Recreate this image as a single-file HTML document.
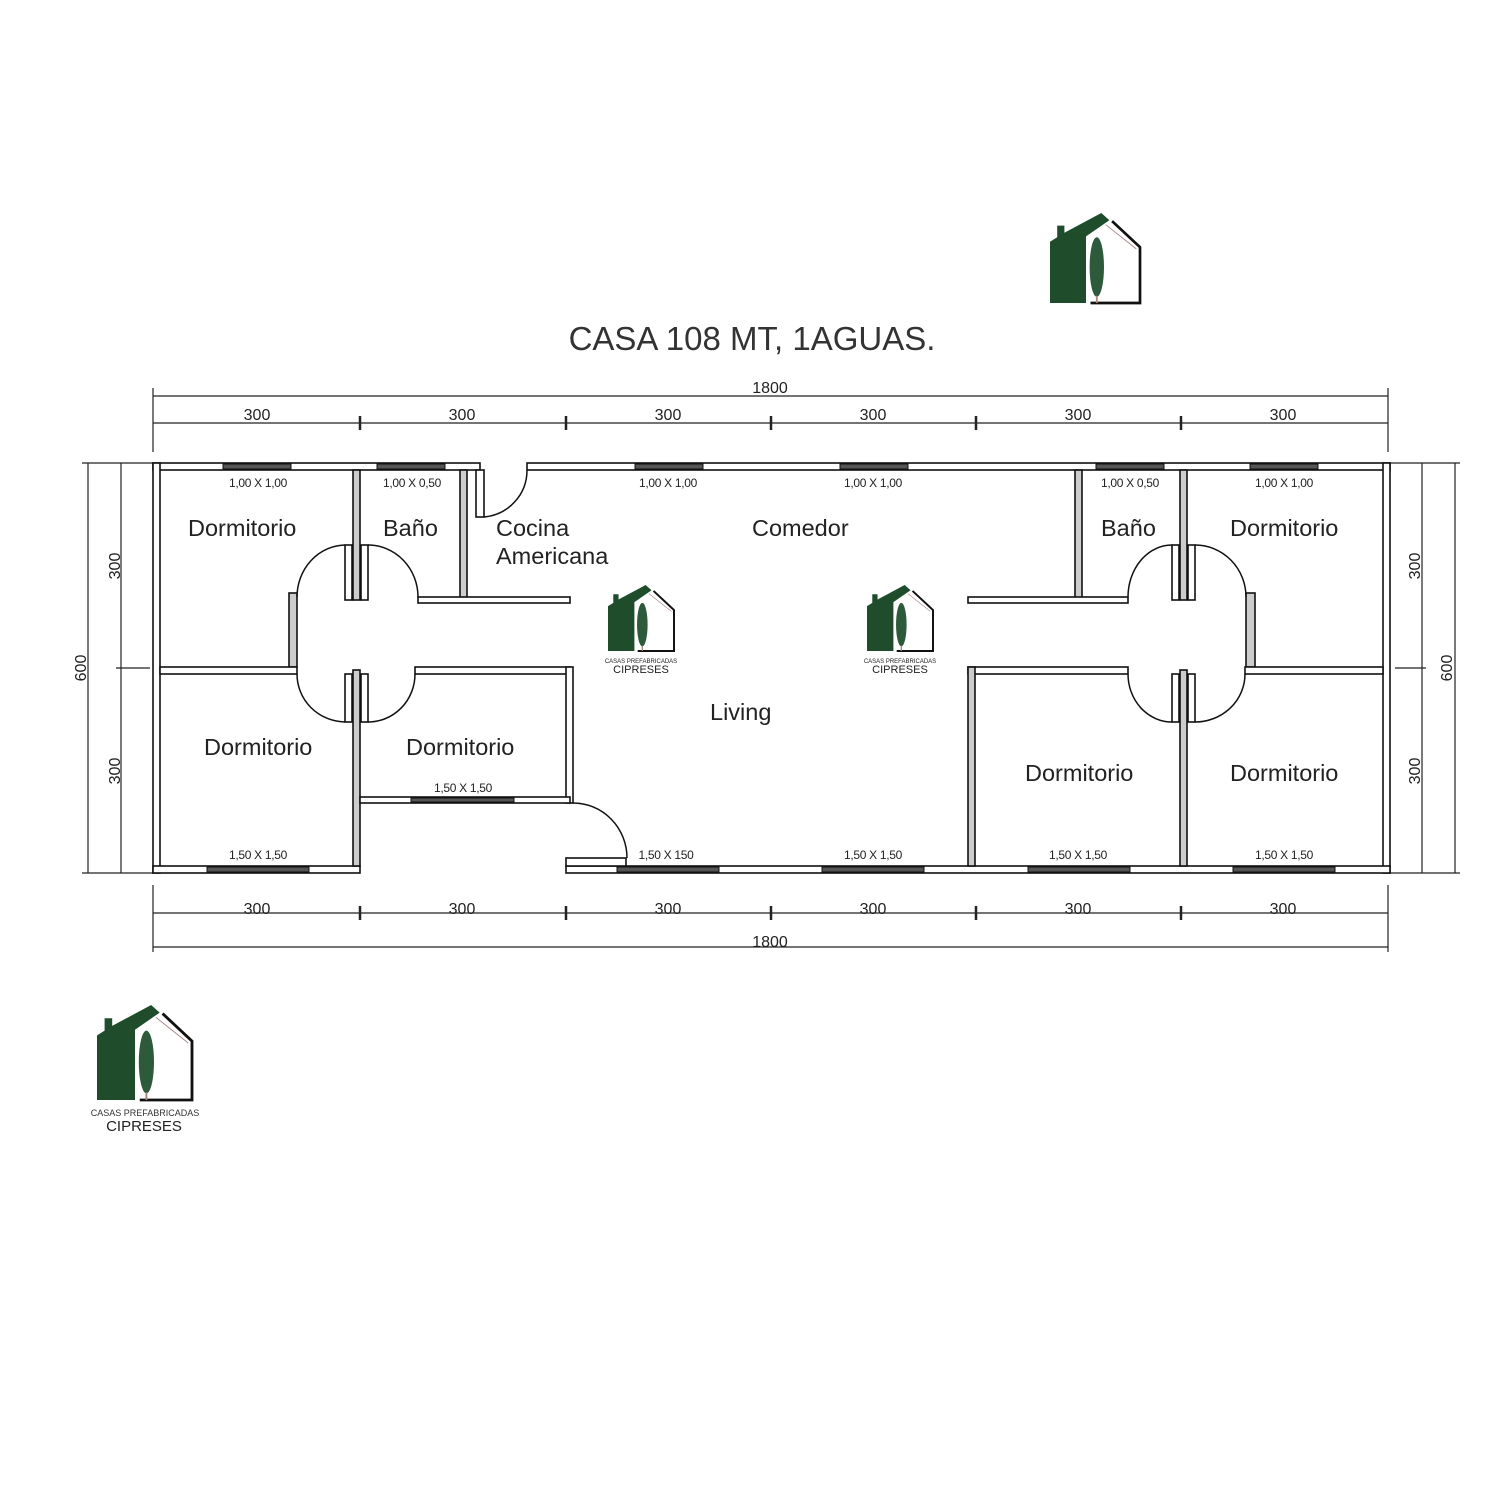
<!DOCTYPE html>
<html><head><meta charset="utf-8"><style>
html,body{margin:0;padding:0;background:#fff}
svg{display:block}
text{font-family:"Liberation Sans",sans-serif;fill:#222}
</style></head><body>
<svg width="1500" height="1500" viewBox="0 0 1500 1500" xmlns="http://www.w3.org/2000/svg">
<defs>
<g id="logo">
<polygon points="0,100 0,32 8,27 8,14 16,14 16,22 57,0 66,8 40,26 40,100" fill="#1f4d2b"/>
<polyline points="69,9 100,38 100,100 45,100" fill="none" stroke="#111" stroke-width="3"/>
<line x1="62" y1="13" x2="96" y2="40" stroke="#a88" stroke-width="1"/>
<ellipse cx="52" cy="60" rx="8" ry="33" fill="#2d5a3a"/>
<line x1="52" y1="92" x2="52" y2="100" stroke="#a87" stroke-width="2"/>
</g>
</defs>
<rect width="1500" height="1500" fill="#fff"/>

<use href="#logo" transform="translate(1050,213) scale(0.9)"/>
<use href="#logo" transform="translate(97,1005) scale(0.95)"/>
<text x="145" y="1116" font-size="9" text-anchor="middle" style="fill:#333">CASAS PREFABRICADAS</text>
<text x="144" y="1131" font-size="15" text-anchor="middle" style="fill:#222">CIPRESES</text>
<use href="#logo" transform="translate(608,585) scale(0.66)"/>
<text x="641" y="663" font-size="6" text-anchor="middle">CASAS PREFABRICADAS</text>
<text x="641" y="673" font-size="11" text-anchor="middle">CIPRESES</text>
<use href="#logo" transform="translate(867,585) scale(0.66)"/>
<text x="900" y="663" font-size="6" text-anchor="middle">CASAS PREFABRICADAS</text>
<text x="900" y="673" font-size="11" text-anchor="middle">CIPRESES</text>

<text x="752" y="350" font-size="33" text-anchor="middle" style="fill:#333">CASA 108 MT, 1AGUAS.</text>

<g stroke="#222" stroke-width="1.2" fill="none">
<line x1="153" y1="396" x2="1388" y2="396"/>
<line x1="153" y1="423" x2="1388" y2="423"/>
<line x1="153" y1="913" x2="1388" y2="913"/>
<line x1="153" y1="947" x2="1388" y2="947"/>
<line x1="88" y1="463" x2="88" y2="873"/>
<line x1="121" y1="463" x2="121" y2="873"/>
<line x1="1422" y1="463" x2="1422" y2="873"/>
<line x1="1455" y1="463" x2="1455" y2="873"/>
<line x1="153" y1="388" x2="153" y2="452"/><line x1="1388" y1="388" x2="1388" y2="452"/>
<line x1="153" y1="885" x2="153" y2="952"/><line x1="1388" y1="885" x2="1388" y2="952"/>
<line x1="82" y1="463" x2="153" y2="463"/><line x1="82" y1="873" x2="153" y2="873"/>
<line x1="1390" y1="463" x2="1460" y2="463"/><line x1="1390" y1="873" x2="1460" y2="873"/>
<line x1="116" y1="668" x2="150" y2="668"/><line x1="1395" y1="668" x2="1426" y2="668"/>
</g>
<g stroke="#222" stroke-width="2.5">
<line x1="360" y1="416" x2="360" y2="430"/><line x1="566" y1="416" x2="566" y2="430"/><line x1="771" y1="416" x2="771" y2="430"/><line x1="976" y1="416" x2="976" y2="430"/><line x1="1181" y1="416" x2="1181" y2="430"/>
<line x1="360" y1="906" x2="360" y2="920"/><line x1="566" y1="906" x2="566" y2="920"/><line x1="771" y1="906" x2="771" y2="920"/><line x1="976" y1="906" x2="976" y2="920"/><line x1="1181" y1="906" x2="1181" y2="920"/>
</g>
<g font-size="16" text-anchor="middle">
<text x="770" y="393">1800</text>
<text x="770" y="947">1800</text>
<text x="257" y="420">300</text><text x="462" y="420">300</text><text x="668" y="420">300</text><text x="873" y="420">300</text><text x="1078" y="420">300</text><text x="1283" y="420">300</text>
<text x="257" y="914">300</text><text x="462" y="914">300</text><text x="668" y="914">300</text><text x="873" y="914">300</text><text x="1078" y="914">300</text><text x="1283" y="914">300</text>
<text transform="translate(120,566) rotate(-90)">300</text>
<text transform="translate(120,771) rotate(-90)">300</text>
<text transform="translate(86,668) rotate(-90)">600</text>
<text transform="translate(1420,566) rotate(-90)">300</text>
<text transform="translate(1420,771) rotate(-90)">300</text>
<text transform="translate(1452,668) rotate(-90)">600</text>
</g>

<g fill="#fff" stroke="#111" stroke-width="1.6">
<rect x="153" y="463" width="327" height="7"/>
<rect x="527" y="463" width="863" height="7"/>
<rect x="153" y="463" width="7" height="410"/>
<rect x="1383" y="463" width="7" height="410"/>
<rect x="153" y="866" width="207" height="7"/>
<rect x="566" y="866" width="824" height="7"/>
<rect x="353" y="470" width="7" height="130" fill="#ccc"/>
<rect x="460" y="470" width="7" height="130" fill="#ccc"/>
<rect x="418" y="597" width="152" height="6"/>
<rect x="289" y="593" width="8" height="74" fill="#ccc"/>
<rect x="160" y="667" width="137" height="7"/>
<rect x="415" y="667" width="155" height="7"/>
<rect x="353" y="670" width="7" height="196" fill="#ccc"/>
<rect x="566" y="667" width="7" height="136"/>
<rect x="360" y="797" width="210" height="6"/>
<rect x="566" y="858" width="60" height="8"/>
<rect x="1075" y="470" width="7" height="130" fill="#ccc"/>
<rect x="1180" y="470" width="7" height="130" fill="#ccc"/>
<rect x="968" y="597" width="160" height="6"/>
<rect x="1246" y="593" width="9" height="74" fill="#ccc"/>
<rect x="1245" y="667" width="138" height="7"/>
<rect x="968" y="667" width="160" height="7"/>
<rect x="968" y="667" width="7" height="199" fill="#ccc"/>
<rect x="1180" y="670" width="7" height="196" fill="#ccc"/>
<rect x="476" y="470" width="8" height="47"/>
<rect x="345" y="545" width="7" height="55"/><rect x="361" y="545" width="7" height="55"/>
<rect x="345" y="674" width="7" height="48"/><rect x="361" y="674" width="7" height="48"/>
<rect x="1172" y="545" width="7" height="55"/><rect x="1188" y="545" width="7" height="55"/>
<rect x="1172" y="674" width="7" height="48"/><rect x="1188" y="674" width="7" height="48"/>
</g>
<g fill="none" stroke="#111" stroke-width="1.5">
<path d="M484,517 A47,47 0 0 0 527,470"/>
<path d="M297,597 A49,52 0 0 1 345,545"/>
<path d="M368,545 A50,52 0 0 1 418,597"/>
<path d="M297,674 A49,48 0 0 0 345,722"/>
<path d="M368,722 A47,48 0 0 0 415,674"/>
<path d="M1128,597 A44,52 0 0 1 1172,545"/>
<path d="M1195,545 A51,52 0 0 1 1246,597"/>
<path d="M1128,674 A44,48 0 0 0 1172,722"/>
<path d="M1195,722 A50,48 0 0 0 1245,674"/>
<path d="M573,803 A54,55 0 0 1 627,858"/>
</g>
<g fill="#555" stroke="#111" stroke-width="1">
<rect x="223" y="464" width="68" height="5"/>
<rect x="377" y="464" width="68" height="5"/>
<rect x="635" y="464" width="68" height="5"/>
<rect x="840" y="464" width="68" height="5"/>
<rect x="1096" y="464" width="68" height="5"/>
<rect x="1250" y="464" width="68" height="5"/>
<rect x="411" y="798" width="103" height="4"/>
<rect x="207" y="867" width="102" height="5"/>
<rect x="617" y="867" width="102" height="5"/>
<rect x="822" y="867" width="102" height="5"/>
<rect x="1028" y="867" width="102" height="5"/>
<rect x="1233" y="867" width="102" height="5"/>
</g>
<g font-size="12" text-anchor="middle" style="letter-spacing:-0.3px">
<text x="258" y="487">1,00 X 1,00</text>
<text x="412" y="487">1,00 X 0,50</text>
<text x="668" y="487">1,00 X 1,00</text>
<text x="873" y="487">1,00 X 1,00</text>
<text x="1130" y="487">1,00 X 0,50</text>
<text x="1284" y="487">1,00 X 1,00</text>
<text x="463" y="792">1,50 X 1,50</text>
<text x="258" y="859">1,50 X 1,50</text>
<text x="666" y="859">1,50 X 150</text>
<text x="873" y="859">1,50 X 1,50</text>
<text x="1078" y="859">1,50 X 1,50</text>
<text x="1284" y="859">1,50 X 1,50</text>
</g>
<g font-size="23.5">
<text x="188" y="536">Dormitorio</text>
<text x="383" y="536">Baño</text>
<text x="496" y="536">Cocina</text>
<text x="496" y="564">Americana</text>
<text x="752" y="536">Comedor</text>
<text x="1101" y="536">Baño</text>
<text x="1230" y="536">Dormitorio</text>
<text x="710" y="720">Living</text>
<text x="204" y="755">Dormitorio</text>
<text x="406" y="755">Dormitorio</text>
<text x="1025" y="781">Dormitorio</text>
<text x="1230" y="781">Dormitorio</text>
</g>
</svg>
</body></html>
